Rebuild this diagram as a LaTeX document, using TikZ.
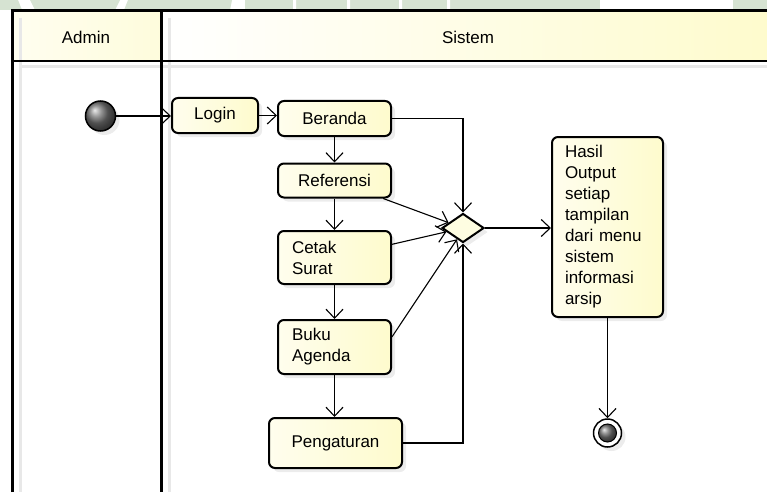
\documentclass[tikz,border=0pt]{standalone}
\usepackage{fontspec}
\setmainfont{Liberation Sans}
\usetikzlibrary{shapes.geometric,arrows.meta,positioning,calc,shadows}
\definecolor{actfill}{RGB}{254,251,205}
\definecolor{wmgreen}{RGB}{214,227,210}

\begin{document}
\begin{tikzpicture}[x=1pt,y=-1pt,
    font=\fontsize{17}{21}\selectfont,
    act/.style={draw,line width=2pt,rounded corners=6pt,inner sep=0pt,
      left color=actfill!35,right color=actfill,
      drop shadow={shadow xshift=4pt,shadow yshift=-4pt,fill=black!15}},
    flow/.style={line width=1.1pt,-{Straight Barb[length=9pt,width=17pt,line width=1.1pt]}},
    lanebar/.style={line width=3pt},
    laneshadow/.style={line width=3pt,black!9}]
  \useasboundingbox (0,0) rectangle (767,492);
  % watermark strip at the top
  \fill[wmgreen] (0,0) -- (18,0) -- (22,10) -- (0,10) -- cycle;
  \fill[wmgreen] (30,0) -- (120,0) -- (115,10) -- (35,10) -- cycle;
  \fill[wmgreen] (128,0) -- (232,0) -- (230,10) -- (124,10) -- cycle;
  \fill[wmgreen] (245,0) rectangle (600,10);
  \fill[white] (293,0) rectangle (296,10) (347,0) rectangle (350,10)
    (399,0) rectangle (402,10) (447,0) rectangle (450,10);
  \fill[wmgreen] (733,0) rectangle (767,10);
  % lane headers
  \shade[left color=actfill!30,right color=actfill!70] (12,11) rectangle (161,61);
  \shade[left color=white,right color=actfill] (161,11) rectangle (770,61);
  \node (adminhd) at (86,37) {Admin};
  \node (sistemhd) at (468,37) {Sistem};
  % lane borders
  \draw[laneshadow] (20,18) -- (20,492);
  \draw[laneshadow] (169,18) -- (169,492);
  \draw[laneshadow] (20,67) -- (770,67);
  \draw[lanebar] (12,492) -- (12,11) -- (770,11);
  \draw[line width=2.5pt] (12,61) -- (770,61);
  \draw[lanebar] (161,11) -- (161,492);
  % start and end
  \node[circle,draw,line width=1.5pt,minimum size=30pt,shading=ball,ball color=black!55,
    drop shadow={shadow xshift=4pt,shadow yshift=-4pt,fill=black!15}] (start) at (100.5,116) {};
  \node[circle,draw,line width=1.5pt,minimum size=28pt,fill=white,
    drop shadow={shadow xshift=4pt,shadow yshift=-4pt,fill=black!15}] (stop) at (607.5,433) {};
  \node[circle,draw,line width=1pt,minimum size=18pt,shading=ball,ball color=black!55] (stopdot) at (stop) {};
  % activities
  \node[act,minimum width=86pt,minimum height=35pt] (login) at (215,115.5) {Login};
  \node[act,minimum width=113pt,minimum height=35pt] (ber) at (334.5,118.5) {Beranda};
  \node[act,minimum width=113pt,minimum height=34pt] (ref) at (334.5,180.5) {Referensi};
  \node[act,minimum height=53pt,text width=85pt,inner xsep=14pt,align=left] (cetak) at (334.5,257.5) {Cetak\\Surat};
  \node[act,minimum height=54pt,text width=85pt,inner xsep=14pt,align=left] (buku) at (334.5,347) {Buku\\Agenda};
  \node[act,minimum width=133pt,minimum height=50pt] (peng) at (335.5,443) {Pengaturan};
  \node[diamond,draw,line width=2pt,fill=actfill!60,minimum width=42pt,minimum height=29pt,inner sep=0pt,
    drop shadow={shadow xshift=4pt,shadow yshift=-4pt,fill=black!15}] (merge) at (463,228) {};
  \node[act,minimum height=180pt,text width=85pt,inner xsep=13pt,align=left] (hasil) at (607.5,227)
    {Hasil\\Output\\setiap\\tampilan\\dari menu\\sistem\\informasi\\arsip};
  % flows
  \draw[flow] (start) -- (start -| login.west);
  \draw[flow] (login.east) -- (login.east -| ber.west);
  \draw[flow] (ber) -- (ref);
  \draw[flow] (ref) -- (cetak);
  \draw[flow] (cetak) -- (buku);
  \draw[flow] (buku.south) -- (buku.south |- peng.north);
  \draw[flow] (ber.east) -| (merge.north);
  \draw[flow] (ref) -- (merge);
  \draw[flow] (cetak) -- (merge);
  \draw[flow] (buku.10) -- (merge.-118);
  \draw[flow] (peng.east) -| (merge.south);
  \draw[flow] (merge.east) -- (merge.east -| hasil.west);
  \draw[flow] (hasil) -- (stop);
\end{tikzpicture}
\end{document}
